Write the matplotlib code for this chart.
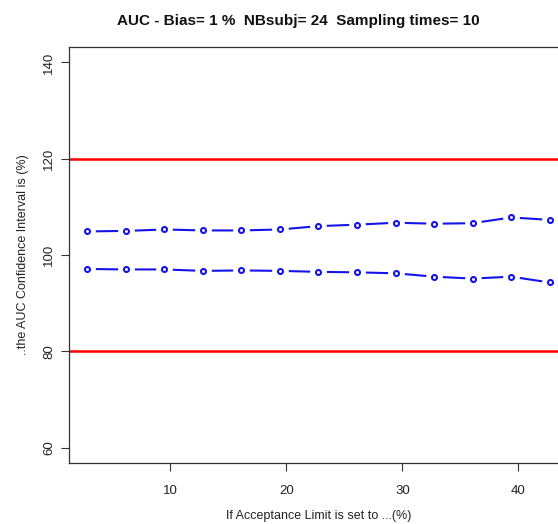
import matplotlib
matplotlib.use("Agg")
import matplotlib.pyplot as plt

plt.rcParams['font.family'] = ['Liberation Sans', 'DejaVu Sans']

# Data
acceptance_limit = [2.84, 6.16, 9.48, 12.80, 16.12, 19.44, 22.76, 26.08, 29.40, 32.72, 36.04, 39.36, 42.68]
ci_upper = [104.9, 105.0, 105.3, 105.1, 105.1, 105.3, 106.0, 106.3, 106.7, 106.5, 106.6, 107.8, 107.3]
ci_lower = [97.1, 97.0, 97.0, 96.7, 96.8, 96.7, 96.5, 96.4, 96.2, 95.5, 95.1, 95.5, 94.3]
limit_low = 80
limit_high = 120
x_ticks = [10, 20, 30, 40]
y_ticks = [60, 80, 100, 120, 140]

W, H = 558, 524
fig = plt.figure(figsize=(W / 100, H / 100), dpi=100)
ax = fig.add_axes([69 / W, (H - 463) / H, (568 - 69) / W, (463 - 47) / H])

blue = '#1414e8'
for series in (ci_upper, ci_lower):
    ax.plot(acceptance_limit, series, color=blue, lw=1.5, zorder=2)
    ax.plot(acceptance_limit, series, ls='none', marker='o', ms=11,
            mfc='white', mec='white', zorder=3)
    ax.plot(acceptance_limit, series, ls='none', marker='o', ms=3.6,
            mfc='none', mec=blue, mew=1.5, zorder=4)

ax.axhline(limit_high, color='#ff0000', lw=1.8, zorder=1)
ax.axhline(limit_low, color='#ff0000', lw=1.8, zorder=1)

ax.set_xlim(1.25, 44.27)
ax.set_ylim(56.8, 143.2)
ax.set_xticks(x_ticks)
ax.set_yticks(y_ticks)
ax.set_yticklabels([str(v) for v in y_ticks], rotation=90, va='center')
ax.tick_params(axis='both', direction='out', length=6, width=0.8,
               color='#333333', labelsize=9.5, labelcolor='#222222')
ax.tick_params(axis='x', pad=10)
ax.tick_params(axis='y', pad=4)
for s in ax.spines.values():
    s.set_color('#333333')
    s.set_linewidth(0.9)

ax.set_xlabel('If Acceptance Limit is set to ...(%)', fontsize=9, color='#222222', labelpad=9)
ax.set_ylabel('..the AUC Confidence Interval is (%)', fontsize=9, color='#222222', labelpad=10)

fig.text(298 / W, 1 - 21 / H, 'AUC - Bias= 1 %  NBsubj= 24  Sampling times= 10',
         ha='center', va='center', fontsize=11, fontweight='bold', color='#111111')

fig.savefig('out.png', dpi=100)
